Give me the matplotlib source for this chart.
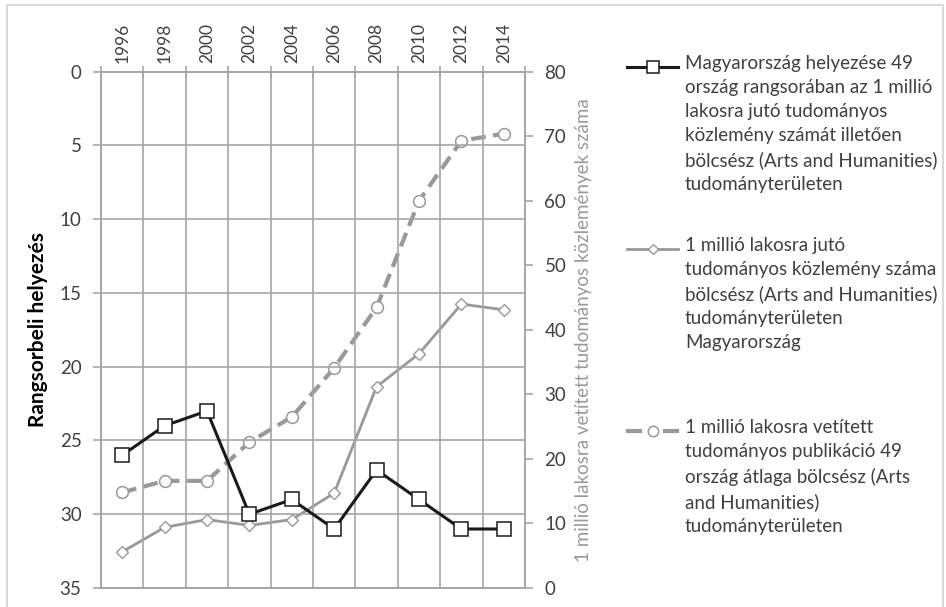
import matplotlib
matplotlib.use("Agg")
import matplotlib.pyplot as plt
from matplotlib.lines import Line2D
from matplotlib.patches import Rectangle

plt.rcParams['font.family'] = ['Lato', 'DejaVu Sans']

years = ['1996', '1998', '2000', '2002', '2004', '2006', '2008', '2010', '2012', '2014']
rank_hu = [26, 24, 23, 30, 29, 31, 27, 29, 31, 31]
pubs_hu = [5.6, 9.4, 10.6, 9.7, 10.6, 14.7, 31.2, 36.3, 44.0, 43.1]
pubs_avg = [14.8, 16.6, 16.6, 22.6, 26.5, 34.1, 43.5, 60.0, 69.3, 70.4]

labels = [
    "Magyarország helyezése 49\nország rangsorában az 1 millió\nlakosra jutó tudományos\n"
    "közlemény számát illetően\nbölcsész (Arts and Humanities)\ntudományterületen",
    "1 millió lakosra jutó\ntudományos közlemény száma\nbölcsész (Arts and Humanities)\n"
    "tudományterületen\nMagyarország",
    "1 millió lakosra vetített\ntudományos publikáció 49\nország átlaga bölcsész (Arts\n"
    "and Humanities)\ntudományterületen",
]

W, H = 946, 607
grid_c = '#a6a6a6'
txt_c = '#404040'
gray = '#999999'

fig = plt.figure(figsize=(W / 100, H / 100), dpi=100)
ax = fig.add_axes([101 / W, 1 - 588 / H, (525 - 101) / W, (588 - 71.7) / H])
ax2 = ax.twinx()

x = [i + 0.5 for i in range(len(years))]

# left axis: rank (inverted)
ax.set_xlim(0, len(years))
ax.set_ylim(35, 0)
ax.set_yticks(range(0, 36, 5))
ax.xaxis.tick_top()
ax.set_xticks(range(len(years) + 1))
ax.set_xticklabels([])
ax.set_xticks(x, minor=True)
ax.set_xticklabels(years, minor=True, rotation=90, fontsize=12.5, color=txt_c)
ax.tick_params(axis='x', which='major', direction='inout', length=8, color=grid_c, width=1.2)
ax.tick_params(axis='x', which='minor', length=0, pad=6)
ax.tick_params(axis='y', direction='out', length=6, color=grid_c, width=1.2,
               labelsize=13.5, labelcolor=txt_c, pad=8)
ax.grid(True, which='major', color=grid_c, lw=1.2)
for s in ax.spines.values():
    s.set_color(grid_c)
    s.set_linewidth(1.2)
ax.set_ylabel("Rangsorbeli helyezés", fontsize=15, fontweight='bold', color='black', labelpad=8)

# right axis: publications per million
ax2.set_ylim(0, 80)
ax2.set_yticks(range(0, 81, 10))
ax2.tick_params(axis='y', direction='out', length=6, color=grid_c, width=1.2,
                labelsize=13.5, labelcolor=txt_c, pad=8)
for s in ax2.spines.values():
    s.set_color(grid_c)
    s.set_linewidth(1.2)
ax2.set_ylabel("1 millió lakosra vetített tudományos közlemények száma",
               fontsize=13.5, color=gray, labelpad=6)

ax2.plot(x, pubs_avg, color=gray, lw=3, ls=(0, (3.5, 1.8)), marker='o', ms=8.5,
         mfc='white', mec=gray, mew=1.1, zorder=3)
ax2.plot(x, pubs_hu, color=gray, lw=2, marker='D', ms=6.5,
         mfc='white', mec=gray, mew=1.0, zorder=3)

# put rank line on top
ax.set_zorder(ax2.get_zorder() + 1)
ax.patch.set_visible(False)
ax.plot(x, rank_hu, color='#1a1a1a', lw=2.2, marker='s', ms=9.5,
        mfc='white', mec='#1a1a1a', mew=1.1, zorder=4)

# legend (manual, handle aligned with first text line)
handle_lines = [
    dict(color='#1a1a1a', lw=2.2),
    dict(color=gray, lw=2),
    dict(color=gray, lw=3),
]
handle_marks = [
    dict(marker='s', ms=8, mfc='white', mec='#1a1a1a', mew=1.1),
    dict(marker='D', ms=5.5, mfc='white', mec=gray, mew=1.0),
    dict(marker='o', ms=7.5, mfc='white', mec=gray, mew=1.1),
]
first_line_y = [67, 249, 431]
for i, (lab, hl, hm, yy) in enumerate(zip(labels, handle_lines, handle_marks, first_line_y)):
    yf = 1 - yy / H
    if i == 2:
        segs = [(628, 640), (665, 677)]
    else:
        segs = [(627, 678)]
    for a, b in segs:
        fig.add_artist(Line2D([a / W, b / W], [yf, yf], transform=fig.transFigure, **hl))
    fig.add_artist(Line2D([652.5 / W], [yf], transform=fig.transFigure, ls='none', **hm))
    fig.text(685 / W, 1 - (yy - 12) / H, lab, fontsize=13.5, color=txt_c, va='top',
             ha='left', linespacing=1.5)

fig.add_artist(Rectangle((7 / W, -0.01), (943 - 7) / W, 1 - 5 / H + 0.01,
                         transform=fig.transFigure, fill=False, ec='#d9d9d9', lw=1.5))

fig.savefig('out.png', dpi=100)
